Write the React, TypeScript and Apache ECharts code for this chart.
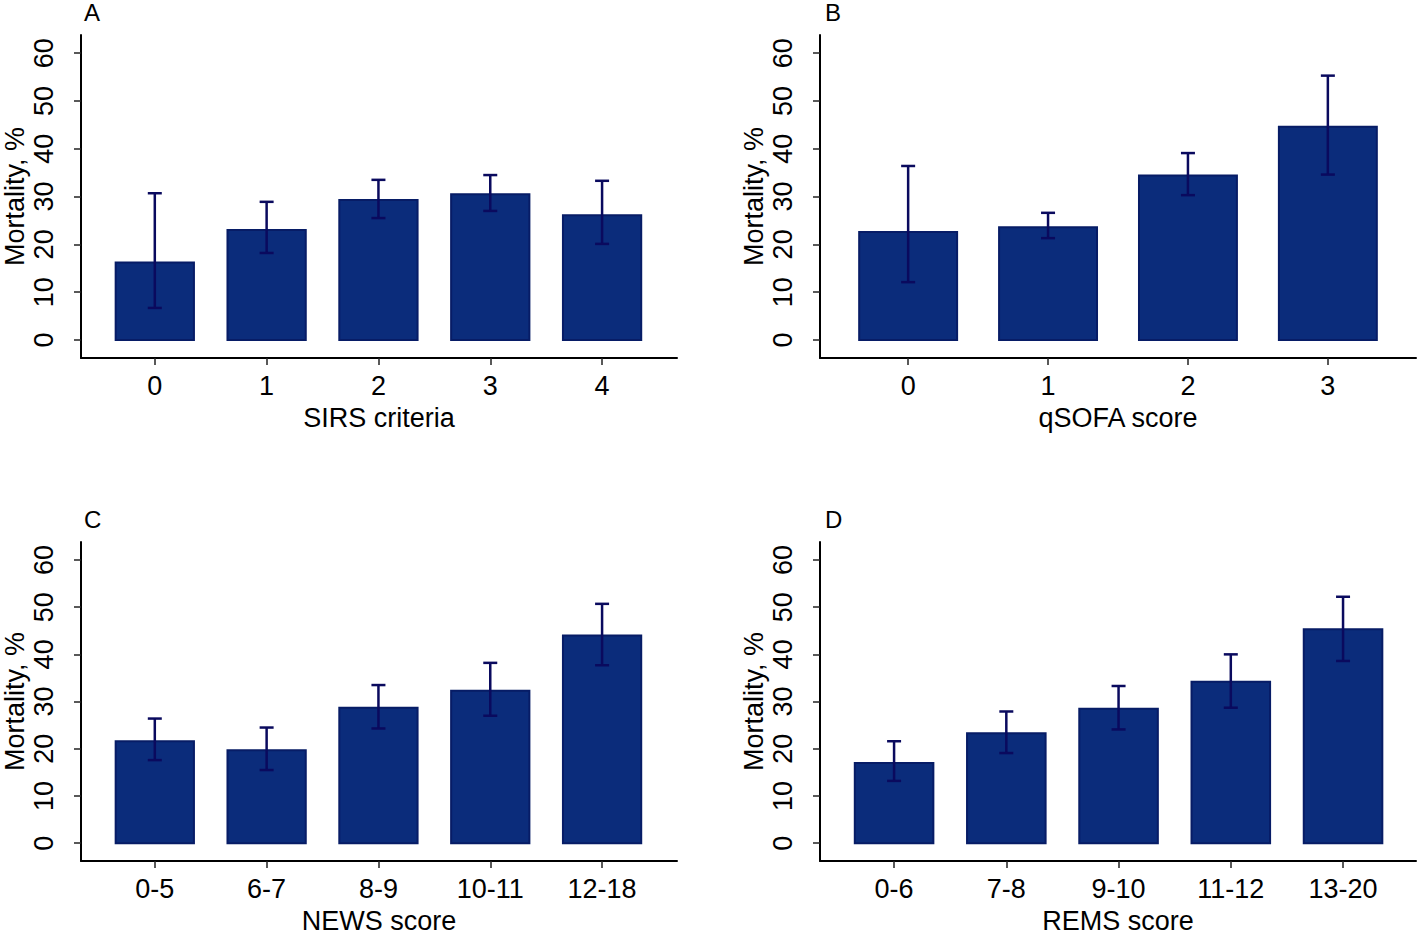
import React, { useEffect, useRef } from "react";
import * as echarts from "echarts";

const sirsCats = ["0", "1", "2", "3", "4"];
const sirsMean = [16.2, 23.0, 29.3, 30.5, 26.1];
const sirsLow = [6.7, 18.2, 25.5, 27.0, 20.1];
const sirsHigh = [30.7, 28.9, 33.5, 34.5, 33.3];

const qsofaCats = ["0", "1", "2", "3"];
const qsofaMean = [22.6, 23.6, 34.4, 44.6];
const qsofaLow = [12.1, 21.3, 30.3, 34.6];
const qsofaHigh = [36.4, 26.6, 39.1, 55.3];

const newsCats = ["0-5", "6-7", "8-9", "10-11", "12-18"];
const newsMean = [21.6, 19.7, 28.7, 32.3, 44.0];
const newsLow = [17.6, 15.5, 24.3, 27.0, 37.7];
const newsHigh = [26.4, 24.5, 33.5, 38.2, 50.7];

const remsCats = ["0-6", "7-8", "9-10", "11-12", "13-20"];
const remsMean = [17.0, 23.3, 28.5, 34.2, 45.3];
const remsLow = [13.2, 19.1, 24.1, 28.7, 38.6];
const remsHigh = [21.6, 27.9, 33.3, 40.0, 52.2];

const yTicks = [0, 10, 20, 30, 40, 50, 60];

const panels = [
  { letter: "A", name: "SIRS criteria", cats: sirsCats, mean: sirsMean, low: sirsLow, high: sirsHigh, xMin: -0.66, xMax: 4.67 },
  { letter: "B", name: "qSOFA score", cats: qsofaCats, mean: qsofaMean, low: qsofaLow, high: qsofaHigh, xMin: -0.63, xMax: 3.63 },
  { letter: "C", name: "NEWS score", cats: newsCats, mean: newsMean, low: newsLow, high: newsHigh, xMin: -0.66, xMax: 4.67 },
  { letter: "D", name: "REMS score", cats: remsCats, mean: remsMean, low: remsLow, high: remsHigh, xMin: -0.66, xMax: 4.65 },
];

const FONT = "Arial, 'Liberation Sans', Helvetica, sans-serif";
const FS = 27;
const BAR_FILL = "#0b2c7b";
const BAR_EDGE = "#071c66";
const ERR = "#0a0a5e";

export default function App() {
  const ref = useRef<HTMLDivElement>(null);
  useEffect(() => {
    if (!ref.current) return;
    const chart = echarts.init(ref.current, null, { renderer: "svg" });
    const grids = [
      { left: 79, right: 741, top: 35, bottom: 577 },
      { left: 820, right: 2, top: 35, bottom: 577 },
      { left: 79, right: 741, top: 542, bottom: 71 },
      { left: 820, right: 2, top: 542, bottom: 71 },
    ];
    const xAxis: any[] = [];
    const yAxis: any[] = [];
    const series: any[] = [];
    const graphic: any[] = [];
    panels.forEach((p, i) => {
      const idxs = p.cats.map((_, k) => k);
      xAxis.push({
        type: "value",
        gridIndex: i,
        min: p.xMin,
        max: p.xMax,
        name: p.name,
        nameLocation: "middle",
        nameGap: 46,
        nameTextStyle: { fontFamily: FONT, fontSize: FS, color: "#000" },
        axisLine: { show: true, onZero: false, lineStyle: { color: "#000", width: 2 } },
        axisTick: { show: true, length: 7, customValues: idxs, lineStyle: { color: "#222", width: 1.5 } },
        axisLabel: {
          customValues: idxs,
          formatter: (v: number) => p.cats[Math.round(v)] ?? "",
          fontFamily: FONT,
          fontSize: FS,
          color: "#000",
          margin: 14,
        },
        splitLine: { show: false },
      });
      yAxis.push({
        type: "value",
        gridIndex: i,
        min: -3.77,
        max: 63.8,
        name: "Mortality, %",
        nameLocation: "middle",
        nameRotate: 90,
        nameGap: 53,
        nameTextStyle: { fontFamily: FONT, fontSize: FS, color: "#000" },
        axisLine: { show: true, onZero: false, lineStyle: { color: "#000", width: 2 } },
        axisTick: { show: true, length: 7, customValues: yTicks, lineStyle: { color: "#222", width: 1.5 } },
        axisLabel: {
          customValues: yTicks,
          rotate: 90,
          fontFamily: FONT,
          fontSize: FS,
          color: "#000",
          margin: 24,
        },
        splitLine: { show: false },
      });
      series.push({
        type: "custom",
        xAxisIndex: i,
        yAxisIndex: i,
        encode: { x: 0, y: 1 },
        data: p.mean.map((m, k) => [k, m, p.low[k], p.high[k]]),
        renderItem: (params: any, api: any) => {
          const x = api.value(0);
          const m = api.value(1);
          const lo = api.value(2);
          const hi = api.value(3);
          const a = api.coord([x - 0.35, 0]);
          const b = api.coord([x + 0.35, m]);
          const top = api.coord([x, hi]);
          const bot = api.coord([x, lo]);
          const cap = 7;
          return {
            type: "group",
            children: [
              {
                type: "rect",
                shape: { x: a[0], y: b[1], width: b[0] - a[0], height: a[1] - b[1] },
                style: { fill: BAR_FILL, stroke: BAR_EDGE, lineWidth: 2 },
              },
              {
                type: "line",
                shape: { x1: top[0], y1: top[1], x2: bot[0], y2: bot[1] },
                style: { stroke: ERR, lineWidth: 2.5 },
              },
              {
                type: "line",
                shape: { x1: top[0] - cap, y1: top[1], x2: top[0] + cap, y2: top[1] },
                style: { stroke: ERR, lineWidth: 2.5 },
              },
              {
                type: "line",
                shape: { x1: bot[0] - cap, y1: bot[1], x2: bot[0] + cap, y2: bot[1] },
                style: { stroke: ERR, lineWidth: 2.5 },
              },
            ],
          };
        },
      });
      graphic.push({
        type: "text",
        left: grids[i].left + 5,
        top: grids[i].top - 35,
        style: { text: p.letter, fontFamily: FONT, fontSize: 24, fill: "#000" },
      });
    });
    chart.setOption({
      animation: false,
      backgroundColor: "#fff",
      grid: grids,
      xAxis,
      yAxis,
      series,
      graphic,
    });
    return () => chart.dispose();
  }, []);
  return <div ref={ref} style={{ width: 1418, height: 935, position: "absolute", left: 0, top: 0 }} />;
}
